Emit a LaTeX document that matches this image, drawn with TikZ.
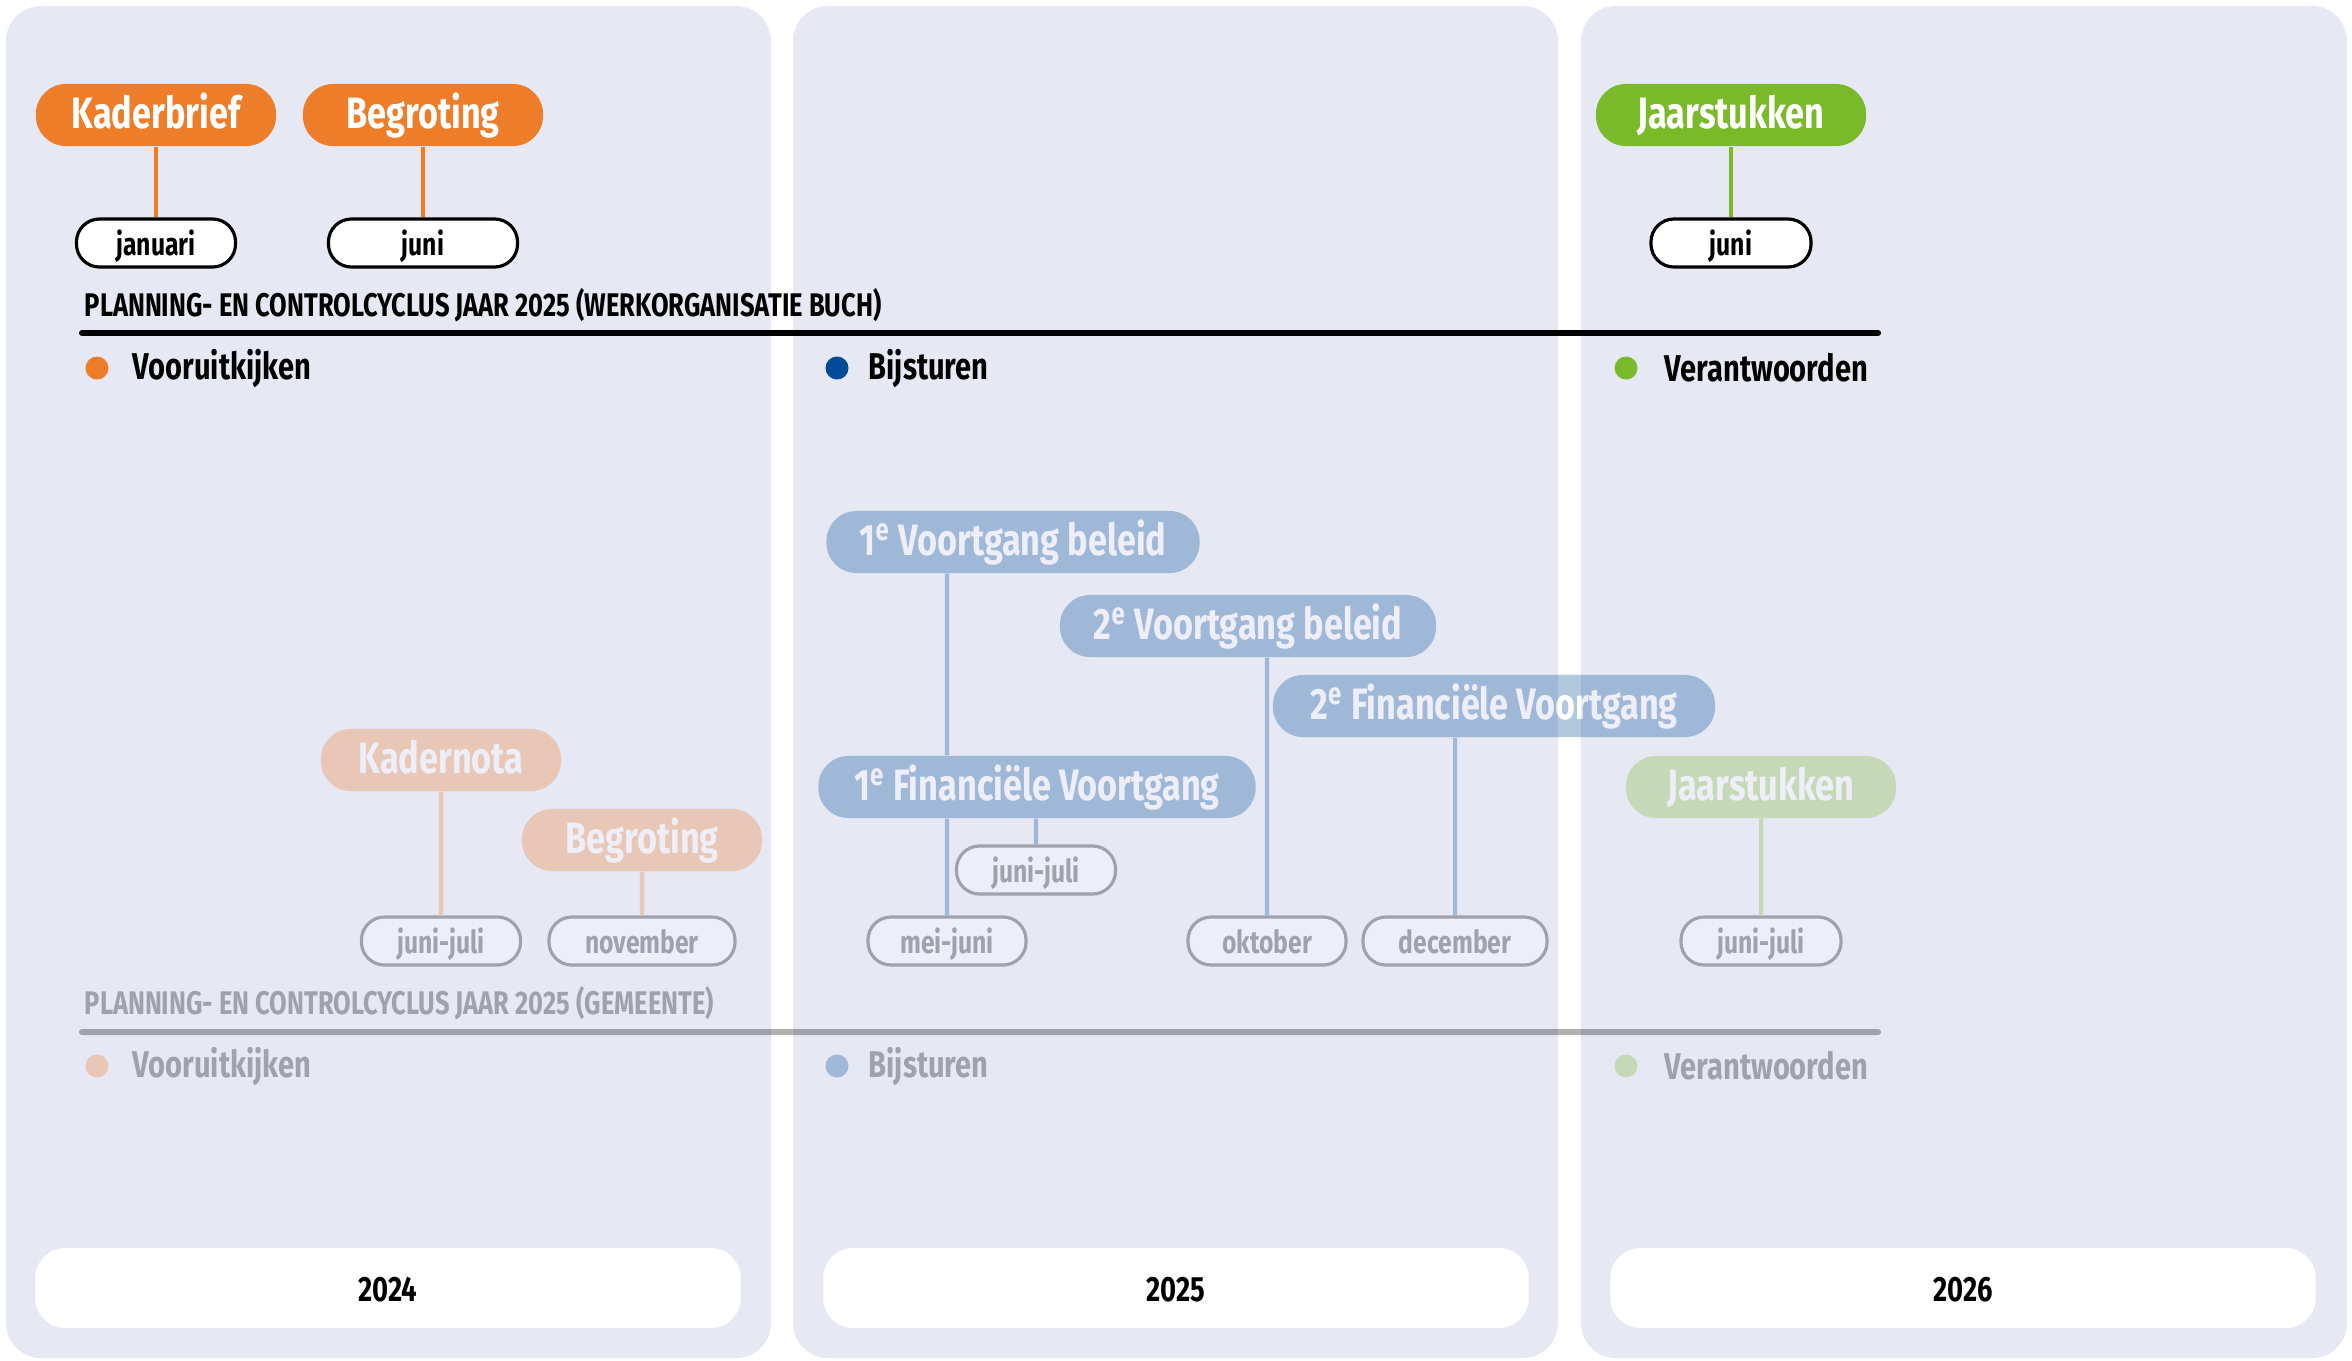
\documentclass[tikz,border=0pt]{standalone}
\usepackage{fontspec}
\setmainfont{Fira Sans}[FakeStretch=0.78]

\definecolor{oranje}{HTML}{EE7D2A}
\definecolor{blauw}{HTML}{004A98}
\definecolor{groen}{HTML}{7AB929}
\definecolor{paneel}{HTML}{E6E8F4}

\begin{document}
\begin{tikzpicture}
[x=0.01cm, y=-0.01cm,
 paneeldecorate/.style={fill=paneel, rounded corners=3.5mm},%
 jaardecorate/.style={shape=rectangle, fill=white, rounded corners=3mm, minimum width=7.05cm, minimum height=8mm, inner sep=0pt, text height=1.7ex, text depth=0.2ex, font=\bfseries\fontsize{10}{12}\selectfont},%
 stapdecorate/.style={shape=rectangle, rounded corners=3mm, minimum height=6.2mm, inner sep=0pt, text height=1.8ex, text depth=0.3ex, text=white, font=\bfseries\fontsize{12.5}{14}\selectfont},%
 maanddecorate/.style={shape=rectangle, rounded corners=2.3mm, draw=black, line width=0.9pt, fill=white, minimum height=4.8mm, inner sep=0pt, text height=1.65ex, text depth=0.35ex, font=\bfseries\fontsize{9}{10}\selectfont},%
 linedecorate/.style={-, line width=1.15pt},%
 regeldecorate/.style={line width=1.7pt, line cap=round},%
 kopdecorate/.style={anchor=base west, inner sep=0pt, font=\bfseries\fontsize{9.3}{11}\selectfont},%
 stipdecorate/.style={shape=circle, inner sep=0pt, minimum size=2.3mm},%
 legendadecorate/.style={anchor=west, inner sep=0pt, font=\bfseries\fontsize{10.6}{12}\selectfont}]
\useasboundingbox[fill=white] (0,0) rectangle (2352,1360);
%% year panels
\foreach \links/\rechts in {6/771, 793/1558, 1581/2347}
{
  \fill[paneeldecorate] (\links,6) rectangle (\rechts,1358);
}
\foreach \naam/\x/\jaar in {jaarA/388/2024, jaarB/1176/2025, jaarC/1963/2026}
{
  \node (\naam) at (\x,1288) [jaardecorate] {\jaar};
}
%% werkorganisatie: steps and months
\foreach \naam/\x/\y/\b/\kleur/\tekst in {kaderbrief/156/115/2.4cm/oranje/Kaderbrief,
 begrotingA/423/115/2.4cm/oranje/Begroting, jaarstukkenA/1731/115/2.7cm/groen/Jaarstukken}
{
  \node (\naam) at (\x,\y) [stapdecorate, fill=\kleur, minimum width=\b] {\tekst};
}
\foreach \naam/\x/\y/\b/\tekst in {januari/156/243/1.59cm/januari,
 juniA/423/243/1.89cm/juni, juniB/1731/243/1.6cm/juni}
{
  \node (\naam) at (\x,\y) [maanddecorate, minimum width=\b] {\tekst};
}
\foreach \van/\naar/\kleur in {kaderbrief/januari/oranje, begrotingA/juniA/oranje,
 jaarstukkenA/juniB/groen}
{
  \draw[linedecorate, \kleur] (\naar.north) -- (\naar.north |- \van.south);
}
\node (kopA) at (84,316) [kopdecorate] {PLANNING- EN CONTROLCYCLUS JAAR 2025 (WERKORGANISATIE BUCH)};
\draw[regeldecorate] (82,333) -- (1878,333);
\foreach \naam/\x/\t/\kleur/\tekst in {vooruitA/97/132/oranje/Vooruitkijken,
 bijsturenA/837/868/blauw/Bijsturen, verantwA/1626/1664/groen/Verantwoorden}
{
  \node (stip\naam) at (\x,368) [stipdecorate, fill=\kleur] {};
  \node (\naam) at (\t,368) [legendadecorate] {\tekst};
}
%% gemeente: same drawing, faded
\begin{scope}[transparency group, opacity=0.3]
\foreach \naam/\x/\y/\b/\kleur/\tekst in {kadernota/441/760/2.4cm/oranje/Kadernota,
 begrotingB/642/840/2.4cm/oranje/Begroting,
 beleidA/1013/542/3.73cm/blauw/1\textsuperscript{e} Voortgang beleid,
 beleidB/1248/626/3.76cm/blauw/2\textsuperscript{e} Voortgang beleid,
 financieelB/1494/706/4.42cm/blauw/2\textsuperscript{e} Financiële Voortgang,
 financieelA/1037/787/4.37cm/blauw/1\textsuperscript{e} Financiële Voortgang,
 jaarstukkenB/1761/787/2.7cm/groen/Jaarstukken}
{
  \node (\naam) at (\x,\y) [stapdecorate, fill=\kleur, minimum width=\b] {\tekst};
}
\foreach \naam/\x/\y/\b/\tekst in {junijuliA/441/941/1.59cm/juni-juli,
 november/642/941/1.86cm/november, meijuni/947/941/1.58cm/mei-juni,
 junijuliB/1036/870/1.59cm/juni-juli, oktober/1267/941/1.58cm/oktober,
 december/1455/941/1.84cm/december, junijuliC/1761/941/1.6cm/juni-juli}
{
  \node (\naam) at (\x,\y) [maanddecorate, minimum width=\b] {\tekst};
}
\foreach \van/\naar/\kleur in {kadernota/junijuliA/oranje, begrotingB/november/oranje,
 financieelA/meijuni/blauw, financieelA/junijuliB/blauw, beleidB/oktober/blauw,
 financieelB/december/blauw, jaarstukkenB/junijuliC/groen}
{
  \draw[linedecorate, \kleur] (\naar.north) -- (\naar.north |- \van.south);
}
\draw[linedecorate, blauw] (financieelA.north -| meijuni.north) -- (beleidA.south -| meijuni.north);
\node (kopB) at (84,1014) [kopdecorate] {PLANNING- EN CONTROLCYCLUS JAAR 2025 (GEMEENTE)};
\draw[regeldecorate] (82,1032) -- (1878,1032);
\foreach \naam/\x/\t/\kleur/\tekst in {vooruitB/97/132/oranje/Vooruitkijken,
 bijsturenB/837/868/blauw/Bijsturen, verantwB/1626/1664/groen/Verantwoorden}
{
  \node (stip\naam) at (\x,1066) [stipdecorate, fill=\kleur] {};
  \node (\naam) at (\t,1066) [legendadecorate] {\tekst};
}
\end{scope}
\end{tikzpicture}
\end{document}
